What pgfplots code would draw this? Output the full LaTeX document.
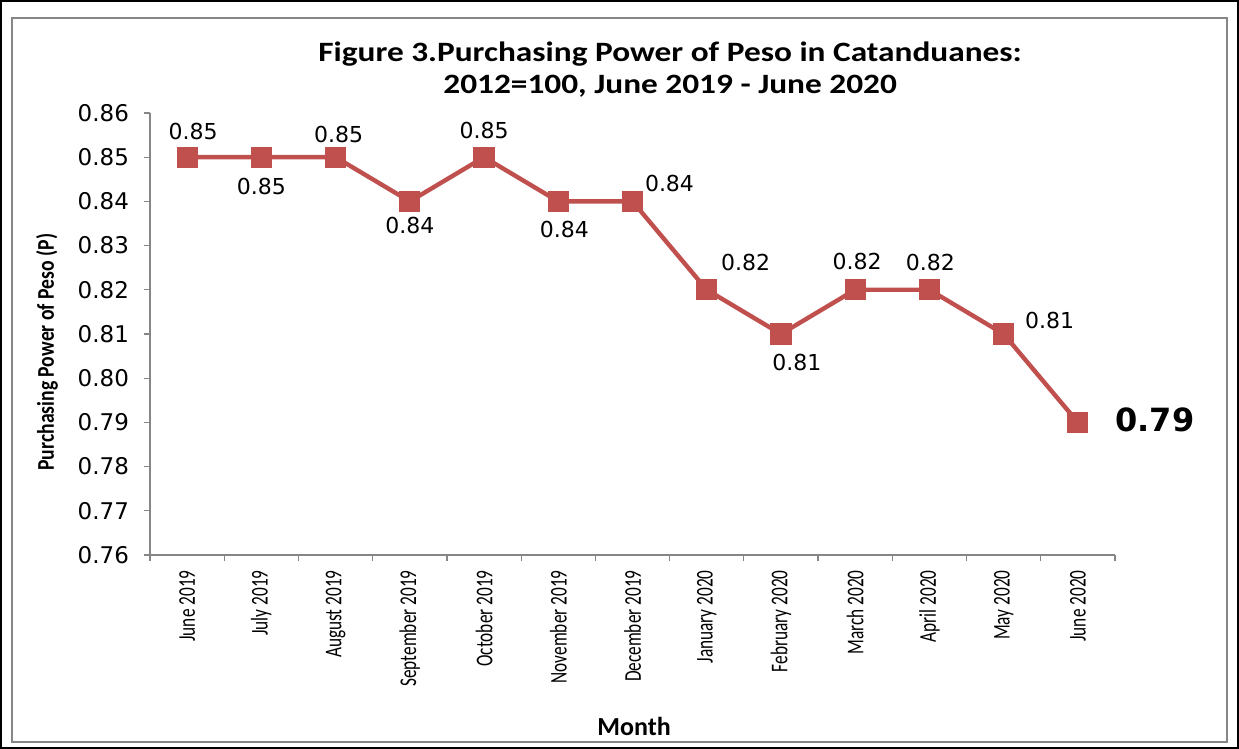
\documentclass[border=0pt]{standalone}
\usepackage{pgfplots}
\pgfplotsset{compat=1.18}
\usepackage{pgfplotstable}
\usepackage{fontspec}
\setmainfont{Carlito}
\newfontfamily\dejavu{DejaVu Sans}
\newfontfamily\cond[FakeStretch=0.72]{Carlito}
\newfontfamily\condb[FakeStretch=0.82]{Carlito Bold}
\newfontfamily\wideb[FakeStretch=1.19]{Carlito Bold}
\definecolor{ser}{HTML}{C0504D}
\definecolor{axgray}{HTML}{868686}
\pgfplotstableread{
x y dx dy
0 0.85 3 13
1 0.85 0 -14.5
2 0.85 1.5 11.5
3 0.84 0 -12
4 0.85 0 13.5
5 0.84 3 -14
6 0.84 18.5 9
7 0.82 19.5 13.5
8 0.81 8 -14
9 0.82 1 14
10 0.82 0.5 13.5
11 0.81 23 7
}\labels
\pgfplotstableread{
x y
0 0.85
1 0.85
2 0.85
3 0.84
4 0.85
5 0.84
6 0.84
7 0.82
8 0.81
9 0.82
10 0.82
11 0.81
12 0.79
}\series
\pgfplotstableread{
x y
12 0.79
}\lastpt
\begin{document}
\begin{tikzpicture}[x=1pt,y=1pt]
\draw[line width=1.2pt] (0.6,0.6) rectangle (618.9,373.9);
\draw[axgray, line width=0.6pt] (6,3.5) rectangle (613.5,365.5);
\begin{axis}[at={(75pt,97pt)}, anchor=south west, scale only axis,
  width=482.5pt, height=221pt,
  xmin=-0.5, xmax=12.5, ymin=0.76, ymax=0.86,
  clip=false,
  axis lines*=left,
  axis line style={axgray, line width=0.6pt},
  tick align=outside,
  major tick length=3pt,
  minor tick length=3pt,
  ytick={0.76,0.77,0.78,0.79,0.80,0.81,0.82,0.83,0.84,0.85,0.86},
  y tick style={axgray, line width=0.6pt},
  major x tick style={draw=none},
  minor x tick style={axgray, line width=0.6pt},
  xtick={0,...,12},
  minor xtick={-0.5,0.5,...,12.5},
  xticklabels={June 2019,July 2019,August 2019,September 2019,October 2019,November 2019,December 2019,January 2020,February 2020,March 2020,April 2020,May 2020,June 2020},
  x tick label style={rotate=90, anchor=east, font=\cond\fontsize{12}{14}\selectfont, inner sep=0pt},
  xticklabel shift=4.5pt,
  y tick label style={font=\dejavu\fontsize{11.5}{13}\selectfont, /pgf/number format/.cd, fixed, fixed zerofill, precision=2, assume math mode=true},
  yticklabel shift=4pt,
  title={Figure 3.Purchasing Power of Peso in Catanduanes:\\2012=100, June 2019 - June 2020},
  title style={at={(axis description cs:0.539,1.07)}, anchor=center, align=center, font=\wideb\fontsize{14}{16}\selectfont},
  ylabel={Purchasing Power of Peso (P)},
  ylabel style={at={(axis description cs:-0.1067,0.459)}, anchor=center, rotate=0, font=\condb\fontsize{12}{14}\selectfont},
  xlabel={Month},
  xlabel style={at={(axis description cs:0.5016,-0.389)}, anchor=center, font=\bfseries\fontsize{13}{15}\selectfont},
]
\addplot[ser, line width=2.2pt, mark=square*, mark size=4.2pt, mark options={solid, fill=ser, draw=ser}] table[x=x,y=y]{\series};
\addplot[draw=none, mark=none, nodes near coords={\pgfmathprintnumber[fixed,fixed zerofill,precision=2,assume math mode=true]{\pgfplotspointmeta}},
  point meta=explicit,
  visualization depends on={\thisrow{dx}\as\dx},
  visualization depends on={\thisrow{dy}\as\dy},
  every node near coord/.append style={anchor=center, xshift=\dx pt, yshift=\dy pt, font=\dejavu\fontsize{11}{13}\selectfont, text=black}]
  table[x=x,y=y,meta=y]{\labels};
\addplot[draw=none, mark=none, nodes near coords={\pgfmathprintnumber[fixed,fixed zerofill,precision=2,assume math mode=true]{\pgfplotspointmeta}},
  point meta=explicit,
  every node near coord/.append style={anchor=center, xshift=38.5pt, yshift=1.5pt, font=\dejavu\bfseries\fontsize{16}{18}\selectfont, text=black}]
  table[x=x,y=y,meta=y]{\lastpt};
\end{axis}
\end{tikzpicture}
\end{document}
